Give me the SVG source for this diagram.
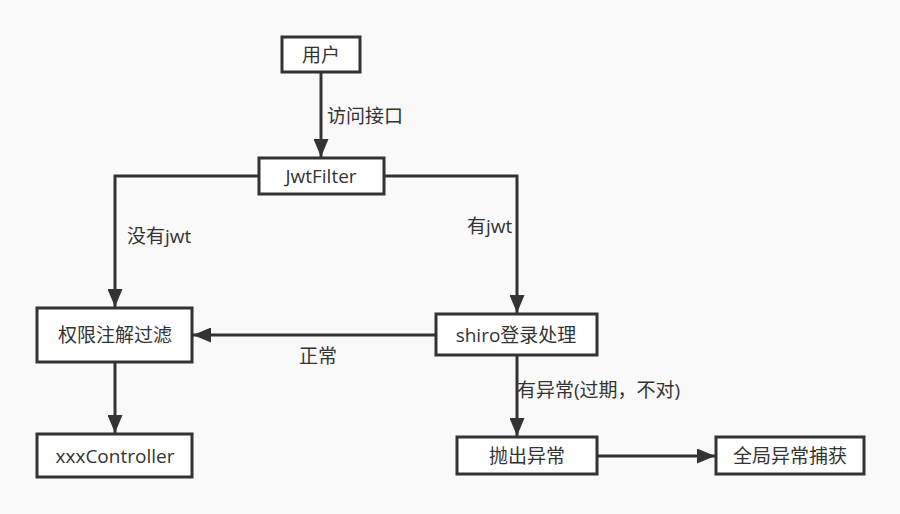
<svg xmlns="http://www.w3.org/2000/svg" width="900" height="514" viewBox="0 0 900 514">
<defs>
<marker id="ah" viewBox="0 0 12 10" refX="12" refY="5" markerWidth="6" markerHeight="5" markerUnits="strokeWidth" orient="auto">
<path d="M0,0 L12,5 L0,10 z" fill="#333"/>
</marker>
<style>
.box{fill:#fff;stroke:#333;stroke-width:3}
.t{font-family:"Open Sans","Noto Sans CJK SC",sans-serif;font-size:19px;fill:#333;text-anchor:middle;dominant-baseline:central}
.l{font-family:"Open Sans","Noto Sans CJK SC",sans-serif;font-size:19px;fill:#333;dominant-baseline:central}
.c{fill:none;stroke:#333;stroke-width:3;marker-end:url(#ah)}
</style>
</defs>
<rect width="900" height="514" fill="#f9f9f9"/>
<g id="connectors">
<path class="c" d="M321,73 L321,157"/>
<path class="c" d="M259,176 L115,176 L115,307"/>
<path class="c" d="M384,176 L517,176 L517,313"/>
<path class="c" d="M436,335 L193,335"/>
<path class="c" d="M115,362 L115,433"/>
<path class="c" d="M517,355 L517,436"/>
<path class="c" d="M597,456 L715,456"/>
<text class="l" x="327" y="116">访问接口</text>
<text class="l" x="127" y="236">没有jwt</text>
<text class="l" x="467" y="226">有jwt</text>
<text class="l" x="299" y="356">正常</text>
<text class="l" x="517" y="390">有异常(过期，不对)</text>
</g>
<g id="user"><rect class="box" x="282" y="37" width="78" height="35"/><text class="t" x="321" y="55">用户</text></g>
<g id="jwtfilter"><rect class="box" x="259" y="158" width="125" height="36"/><text class="t" x="321" y="176">JwtFilter</text></g>
<g id="perm"><rect class="box" x="37" y="308" width="155" height="54"/><text class="t" x="115" y="335">权限注解过滤</text></g>
<g id="controller"><rect class="box" x="37" y="434" width="155" height="43"/><text class="t" x="115" y="456">xxxController</text></g>
<g id="shiro"><rect class="box" x="436" y="314" width="161" height="41"/><text class="t" x="516" y="335">shiro登录处理</text></g>
<g id="throw"><rect class="box" x="457" y="437" width="140" height="37"/><text class="t" x="527" y="456">抛出异常</text></g>
<g id="global"><rect class="box" x="716" y="437" width="148" height="37"/><text class="t" x="790" y="456">全局异常捕获</text></g>
</svg>
